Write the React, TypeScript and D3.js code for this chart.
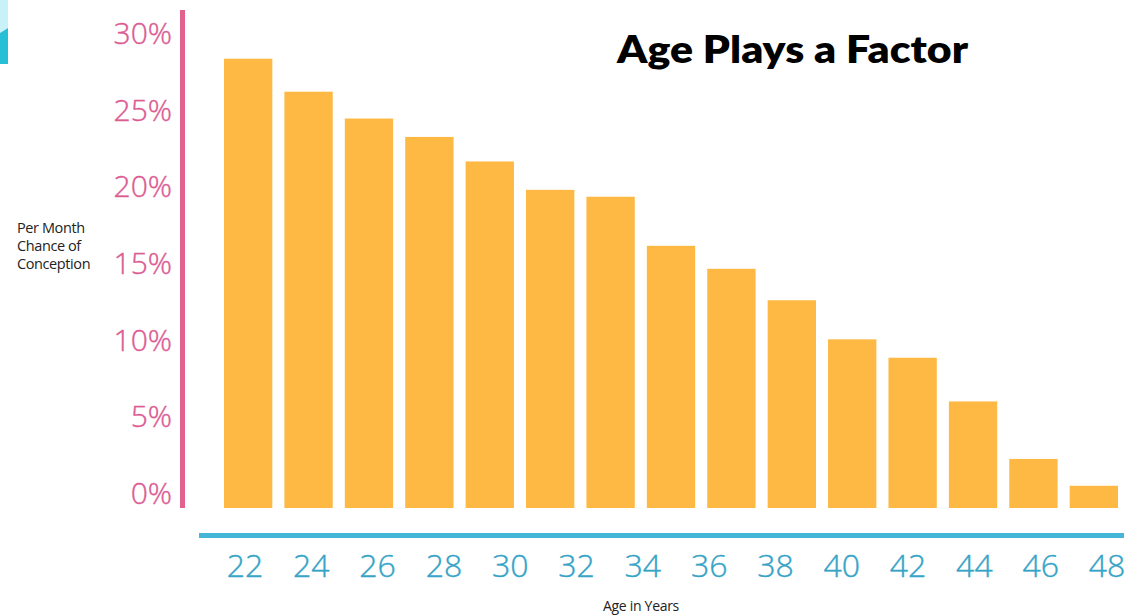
import React from "react";
import * as d3 from "d3";

const barCategories = ["b1","b2","b3","b4","b5","b6","b7","b8","b9","b10","b11","b12","b13","b14","b15"];
const barValues = [29.3, 27.15, 25.4, 24.2, 22.6, 20.75, 20.3, 17.1, 15.6, 13.55, 11.0, 9.8, 6.95, 3.2, 1.45];
const yTicks = [0, 5, 10, 15, 20, 25, 30];
const ageLabels = [22, 24, 26, 28, 30, 32, 34, 36, 38, 40, 42, 44, 46, 48];
const titleText = "Age Plays a Factor";
const yTitleLines = ["Per Month", "Chance of", "Conception"];
const xTitle = "Age in Years";

export default function App() {
  const W = 1138, H = 616;
  const x = d3.scaleBand<string>().domain(barCategories).range([224, 1118]).paddingInner(0.2).paddingOuter(0);
  const y = d3.scaleLinear().domain([0, 30]).range([508, 48]);
  const ageX = d3.scaleLinear().domain([22, 48]).range([245, 1107]);
  const font = "'Open Sans', 'Noto Sans', sans-serif";
  return (
    <svg width={W} height={H} style={{ position: "absolute", left: 0, top: 0, background: "#fff" }} fontFamily={font}>
      <rect x={0} y={0} width={W} height={H} fill="#fff" />
      {/* corner decoration */}
      <polygon points="0,0 8,0 8,28 0,33" fill="#c9f1f8" />
      <polygon points="0,33 8,28 8,64 0,64" fill="#27bfd6" />
      {/* bars */}
      {barValues.map((v, i) => (
        <rect key={i} x={x(barCategories[i])} y={y(v)} width={x.bandwidth()} height={y(0) - y(v)} fill="#fdb944" />
      ))}
      {/* y axis */}
      <line x1={182.5} x2={182.5} y1={y(30) - 38} y2={y(0)} stroke="#e2628f" strokeWidth={5} />
      {yTicks.map((t) => (
        <text key={t} x={172} y={y(t) - 4} textAnchor="end" fontSize={30} fill="#dc5b92" fontWeight={300} stroke="#dc5b92" strokeWidth={0.4}>
          {t}%
        </text>
      ))}
      {yTitleLines.map((l, i) => (
        <text key={l} x={17} y={233 + i * 18} fontSize={14.5} fill="#222" letterSpacing={-0.4}>
          {l}
        </text>
      ))}
      {/* x axis */}
      <line x1={199} x2={1124} y1={535.5} y2={535.5} stroke="#45b6d8" strokeWidth={5} />
      {ageLabels.map((a) => (
        <text key={a} x={ageX(a)} y={577} textAnchor="middle" fontSize={32} fill="#36a4c7" fontWeight={300} stroke="#36a4c7" strokeWidth={0.4}>
          {a}
        </text>
      ))}
      <text x={641} y={611} textAnchor="middle" fontSize={14} fill="#222" letterSpacing={-0.3}>
        {xTitle}
      </text>
      <text x={617} y={63} fontSize={38} fontWeight={800} fill="#000" fontFamily="Lato, 'Open Sans', sans-serif" textLength={351} lengthAdjust="spacingAndGlyphs">
        {titleText}
      </text>
    </svg>
  );
}
